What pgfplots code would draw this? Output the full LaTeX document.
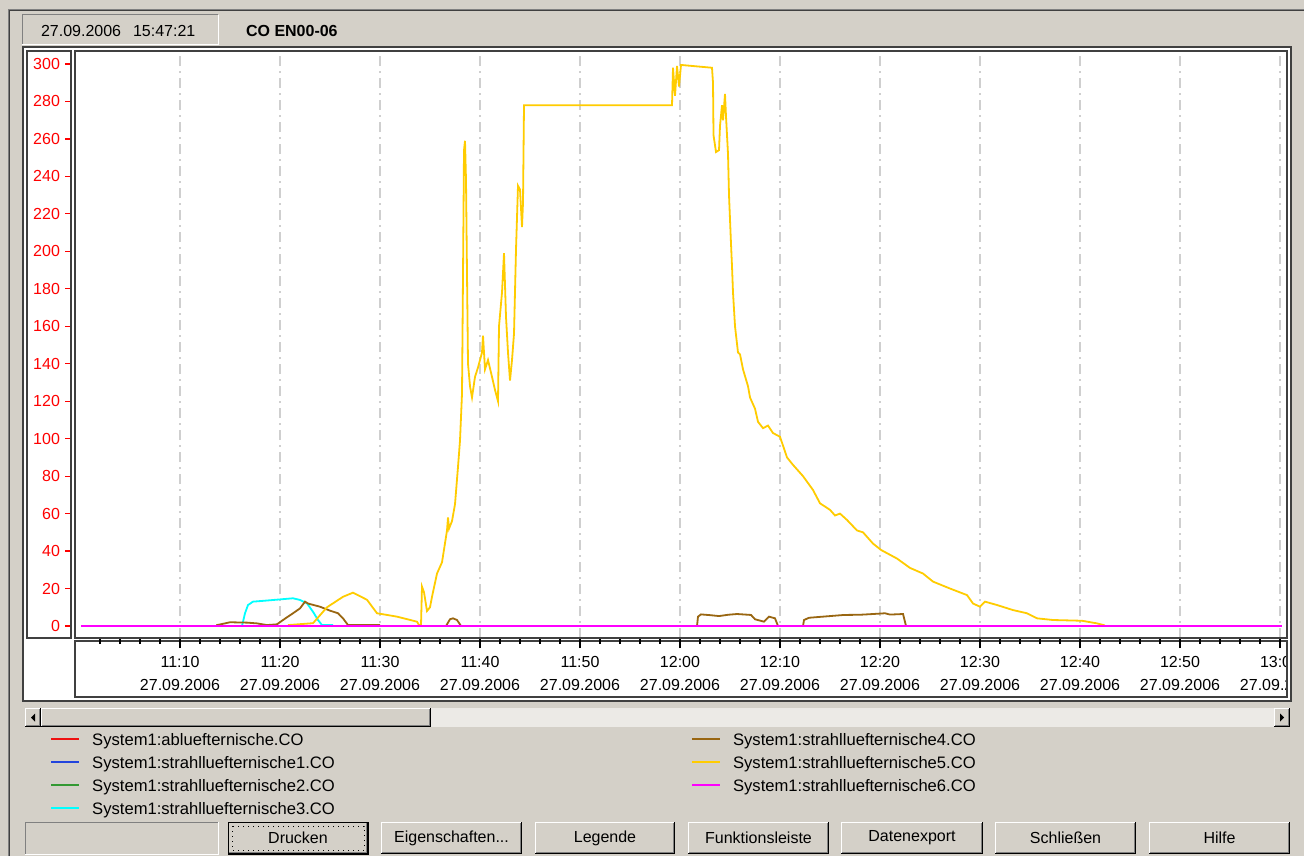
\documentclass[border=0pt]{standalone}
\usepackage{fontspec}
\setmainfont{Liberation Sans}
\usepackage{pgfplots}
\pgfplotsset{compat=1.18}
\definecolor{winbg}{HTML}{D4D0C8}
\definecolor{winshadow}{HTML}{808080}
\definecolor{windark}{HTML}{404040}
\definecolor{scrolltrack}{HTML}{ECEAE6}
\definecolor{gridgray}{HTML}{CFCFCF}
\definecolor{cyel}{HTML}{FFCC00}
\definecolor{cbrown}{HTML}{996611}
\definecolor{ccyan}{HTML}{00FFFF}
\definecolor{cmag}{HTML}{FF00FF}
\definecolor{cred}{HTML}{EE1111}
\definecolor{cblue}{HTML}{2244DD}
\definecolor{cgreen}{HTML}{339933}
\newcommand\uifont{\fontsize{8}{9.6}\selectfont}
\newcommand{\winraised}[4]{%
 \fill[winbg] (#1,#2) rectangle (#3,#4);
 \draw[white,line width=0.5pt] (#1+0.5,#4-1) -- (#1+0.5,#2+0.5) -- (#3-1,#2+0.5);
 \draw[winshadow,line width=0.5pt] (#1+1,#4-1.5) -- (#3-1.5,#4-1.5) -- (#3-1.5,#2+1);
 \draw[black,line width=0.5pt] (#1,#4-0.5) -- (#3-0.5,#4-0.5) -- (#3-0.5,#2);}
\newcommand{\winbutton}[5]{\winraised{#1}{#2}{#3}{#4}\node[font=\uifont] at ({(#1+#3)/2},{(#2+#4)/2}) {#5};}
\begin{document}
\begin{tikzpicture}
\begin{scope}[x=0.5pt,y=-0.5pt]
\fill[winbg] (0,0) rectangle (1304,856);
\draw[winshadow,line width=0.5pt] (8.5,856) -- (8.5,9.5) -- (1304,9.5);
\draw[windark,line width=0.5pt] (9.5,856) -- (9.5,10.5) -- (1304,10.5);
% header
\draw[winshadow,line width=0.5pt] (22,45) -- (22,15) -- (218,15);
\draw[white,line width=0.5pt] (22,45) -- (218,45) -- (218,15);
\node[font=\uifont, anchor=west] at (34,31) {27.09.2006};
\node[font=\uifont, anchor=west] at (126,31) {15:47:21};
\node[font=\uifont\bfseries, anchor=west] at (239,31) {CO EN00-06};
% chart frame
\fill[white] (23,47) rectangle (1291,701);
\draw[windark,line width=0.75pt] (23,47) rectangle (1291,701);
\draw[windark,line width=0.75pt] (27,51) rectangle (71,638);
\draw[windark,line width=0.75pt] (75,641) rectangle (1287,697);
% scrollbar
\fill[scrolltrack] (25,708) rectangle (1290,727);
\winraised{25}{708}{41}{727}
\winraised{41}{708}{431}{727}
\winraised{1274}{708}{1290}{727}
\fill[black] (31,717.5) -- (35,713.5) -- (35,721.5) -- cycle;
\fill[black] (1284,717.5) -- (1280,713.5) -- (1280,721.5) -- cycle;
% buttons
\draw[winshadow,line width=0.5pt] (25,854) -- (25,822) -- (218,822);
\draw[white,line width=0.5pt] (25,854) -- (218,854) -- (218,822);
\winbutton{228}{822}{368}{854}{Drucken}
\draw[black,line width=0.5pt] (228,822) rectangle (368,854);
\draw[black,dotted,line width=0.5pt] (232,826) rectangle (364,850);
\winbutton{381}{822}{522}{854}{Eigenschaften...}
\winbutton{535}{822}{675}{854}{Legende}
\winbutton{688}{822}{829}{854}{Funktionsleiste}
\winbutton{841}{822}{983}{854}{Datenexport}
\winbutton{995}{822}{1136}{854}{Schließen}
\winbutton{1149}{822}{1290}{854}{Hilfe}
\end{scope}
\begin{axis}[
 at={(37.5pt,-319pt)}, anchor=south west,
 scale only axis, width=606pt, height=293.5pt,
 xmin=-0.5, xmax=120.7, ymin=-6.41, ymax=306.94,
 axis line style={draw=windark, line width=0.75pt},
 tick align=outside,
 xtick pos=bottom, ytick pos=left,
 xtick={10,20,...,120},
 xticklabels={{11:10\\27.09.2006},{11:20\\27.09.2006},{11:30\\27.09.2006},{11:40\\27.09.2006},{11:50\\27.09.2006},{12:00\\27.09.2006},{12:10\\27.09.2006},{12:20\\27.09.2006},{12:30\\27.09.2006},{12:40\\27.09.2006},{12:50\\27.09.2006},{13:00\\27.09.2006}},
 minor xtick={2,4,...,118},
 ytick={0,20,...,300},
 major tick length=5pt, minor tick length=3pt,
 xtick style={black, line width=0.6pt},
 ytick style={red, line width=0.6pt, /pgfplots/major tick length=2.5pt, xshift=-2.5pt},
 xmajorgrids,
 major x grid style={draw=gridgray, line width=1pt, dash pattern=on 5pt off 2.5pt on 1pt off 2.5pt},
 ticklabel style={font=\fontsize{8}{11.5}\selectfont},
 /pgf/number format/assume math mode=true,
 yticklabel style={text=red, xshift=1pt},
 xticklabel style={align=center, yshift=-0.5pt},
 unbounded coords=jump,
 legend columns=4, transpose legend, legend cell align=left,
 legend image code/.code={\draw[#1, line width=1.1pt] (0pt,1.25pt) -- (14pt,1.25pt);},
 legend style={at={(-0.0206,-0.1618)}, anchor=north west, draw=none, fill=none, inner sep=0pt, outer sep=0pt, row sep=2.8pt, font=\fontsize{8.3}{10}\selectfont, nodes={inner sep=0.5pt, text height=6pt, text depth=1.7pt}, /tikz/every odd column/.append style={column sep=5.5pt}, /tikz/every even column/.append style={column sep=177.5pt}},
]
\addplot[draw=cred, line width=0.9pt] coordinates {(0.1,0) (120.2,0)};
\addplot[draw=cblue, line width=0.9pt] coordinates {(0.1,0) (120.2,0)};
\addplot[draw=cgreen, line width=0.9pt] coordinates {(0.1,0) (120.2,0)};
\addplot[draw=ccyan, line width=0.9pt] table {
x y
16.2 0
16.5 6.8
16.8 11.2
17.3 13
18.7 13.6
20.0 14.2
21.3 14.8
22.0 13.9
22.7 12.1
23.3 7.6
23.8 3.2
24.2 0.5
25.3 0.5
};
\addplot[draw=cbrown, line width=0.9pt] table {
x y
13.7 0
13.7 0.5
14.5 1.4
15.0 2
16.7 1.8
17.7 1.4
18.7 0.5
19.7 0.9
20.3 3.2
21.3 6.8
22.0 9.4
22.5 13
22.8 12
24.0 10.3
25.0 8.2
25.8 6.8
26.3 4.1
26.8 0.5
30.0 0.5
31 nan
36.6 0
37.0 3.6
37.3 4.1
37.7 3.2
38.1 0
40 nan
61.7 0
61.8 5
62.1 6.2
63.0 5.8
63.9 5.3
64.8 6.0
65.7 6.4
67.1 5.9
67.5 3.6
68.4 2.3
68.9 5
69.5 4.1
69.8 0
71 nan
72.3 0
72.4 3.2
72.9 4.4
75.0 5.3
76.4 5.9
78.0 6.0
79.3 6.4
80.5 6.8
81.0 6.1
82.3 6.4
82.6 0
};
\addplot[draw=cyel, line width=0.9pt] table {
x y
20.8 0.5
23.3 1.5
24.7 10
26.3 15.6
27.3 17.8
28.7 14
29.7 6.8
31.7 5
33.7 2.3
33.9 0.5
34.1 0.5
34.2 21
34.4 18
34.7 8
35.0 10
35.2 15.6
35.7 28
36.2 34
36.7 51
36.8 58
36.9 52
37.2 56
37.5 65
37.8 85
38.0 99
38.2 124
38.3 187
38.4 254
38.5 259
38.6 238
38.7 188
38.8 140
39.0 128
39.2 122
39.5 133
39.8 138
40.2 146
40.3 155
40.5 137
40.8 142
41.2 133
41.5 126
41.8 120
41.9 160
42.2 178
42.4 199
42.6 165
42.8 146
43.0 131
43.2 142
43.4 156
43.6 201
43.8 235
44.0 233
44.2 213
44.3 226
44.4 278
59.2 278
59.3 298
59.5 283
59.7 299
59.9 288
60.1 299.5
63.2 298
63.3 290
63.35 262
63.6 253
63.9 254
64.0 267
64.2 278
64.3 270
64.5 284
64.6 272
64.8 252
64.9 230
65.1 204
65.2 192
65.3 178
65.5 160
65.8 146
66.0 145
66.3 137
66.8 128
67.0 122
67.5 116
67.8 109
68.3 105.6
68.8 107
69.3 103
70.0 101
70.7 90
71.3 86
72.3 80
73.3 72.6
74.0 65.5
75.0 62
75.5 59
76.0 60
76.7 56.6
77.7 51
78.3 50
79.3 44
80.1 40.6
81.7 36
83.0 31
84.3 28
85.3 23.7
87.0 20
88.7 16.5
89.3 12
90.0 10.3
90.5 13
91.7 11.2
93.3 8.5
94.7 6.8
95.7 4.1
97.3 3.2
100.2 2.8
101.7 1.4
102.5 0.3
};
\addplot[draw=cmag, line width=0.9pt] coordinates {(0.1,0) (120.2,0)};
\legend{System1:abluefternische.CO, System1:strahlluefternische1.CO, System1:strahlluefternische2.CO, System1:strahlluefternische3.CO, System1:strahlluefternische4.CO, System1:strahlluefternische5.CO, System1:strahlluefternische6.CO}
\end{axis}
\begin{scope}[x=0.5pt,y=-0.5pt]
\fill[white] (1287.6,642) rectangle (1290.6,700);
\fill[winbg] (1291.5,12) rectangle (1304,706);
\draw[windark,line width=0.75pt] (1291,47) -- (1291,701);
\draw[windark,line width=0.75pt] (1287,641) -- (1287,697);
\end{scope}
\pgfresetboundingbox
\path[use as bounding box] (0pt,0pt) rectangle (652pt,-428pt);
\end{tikzpicture}
\end{document}
